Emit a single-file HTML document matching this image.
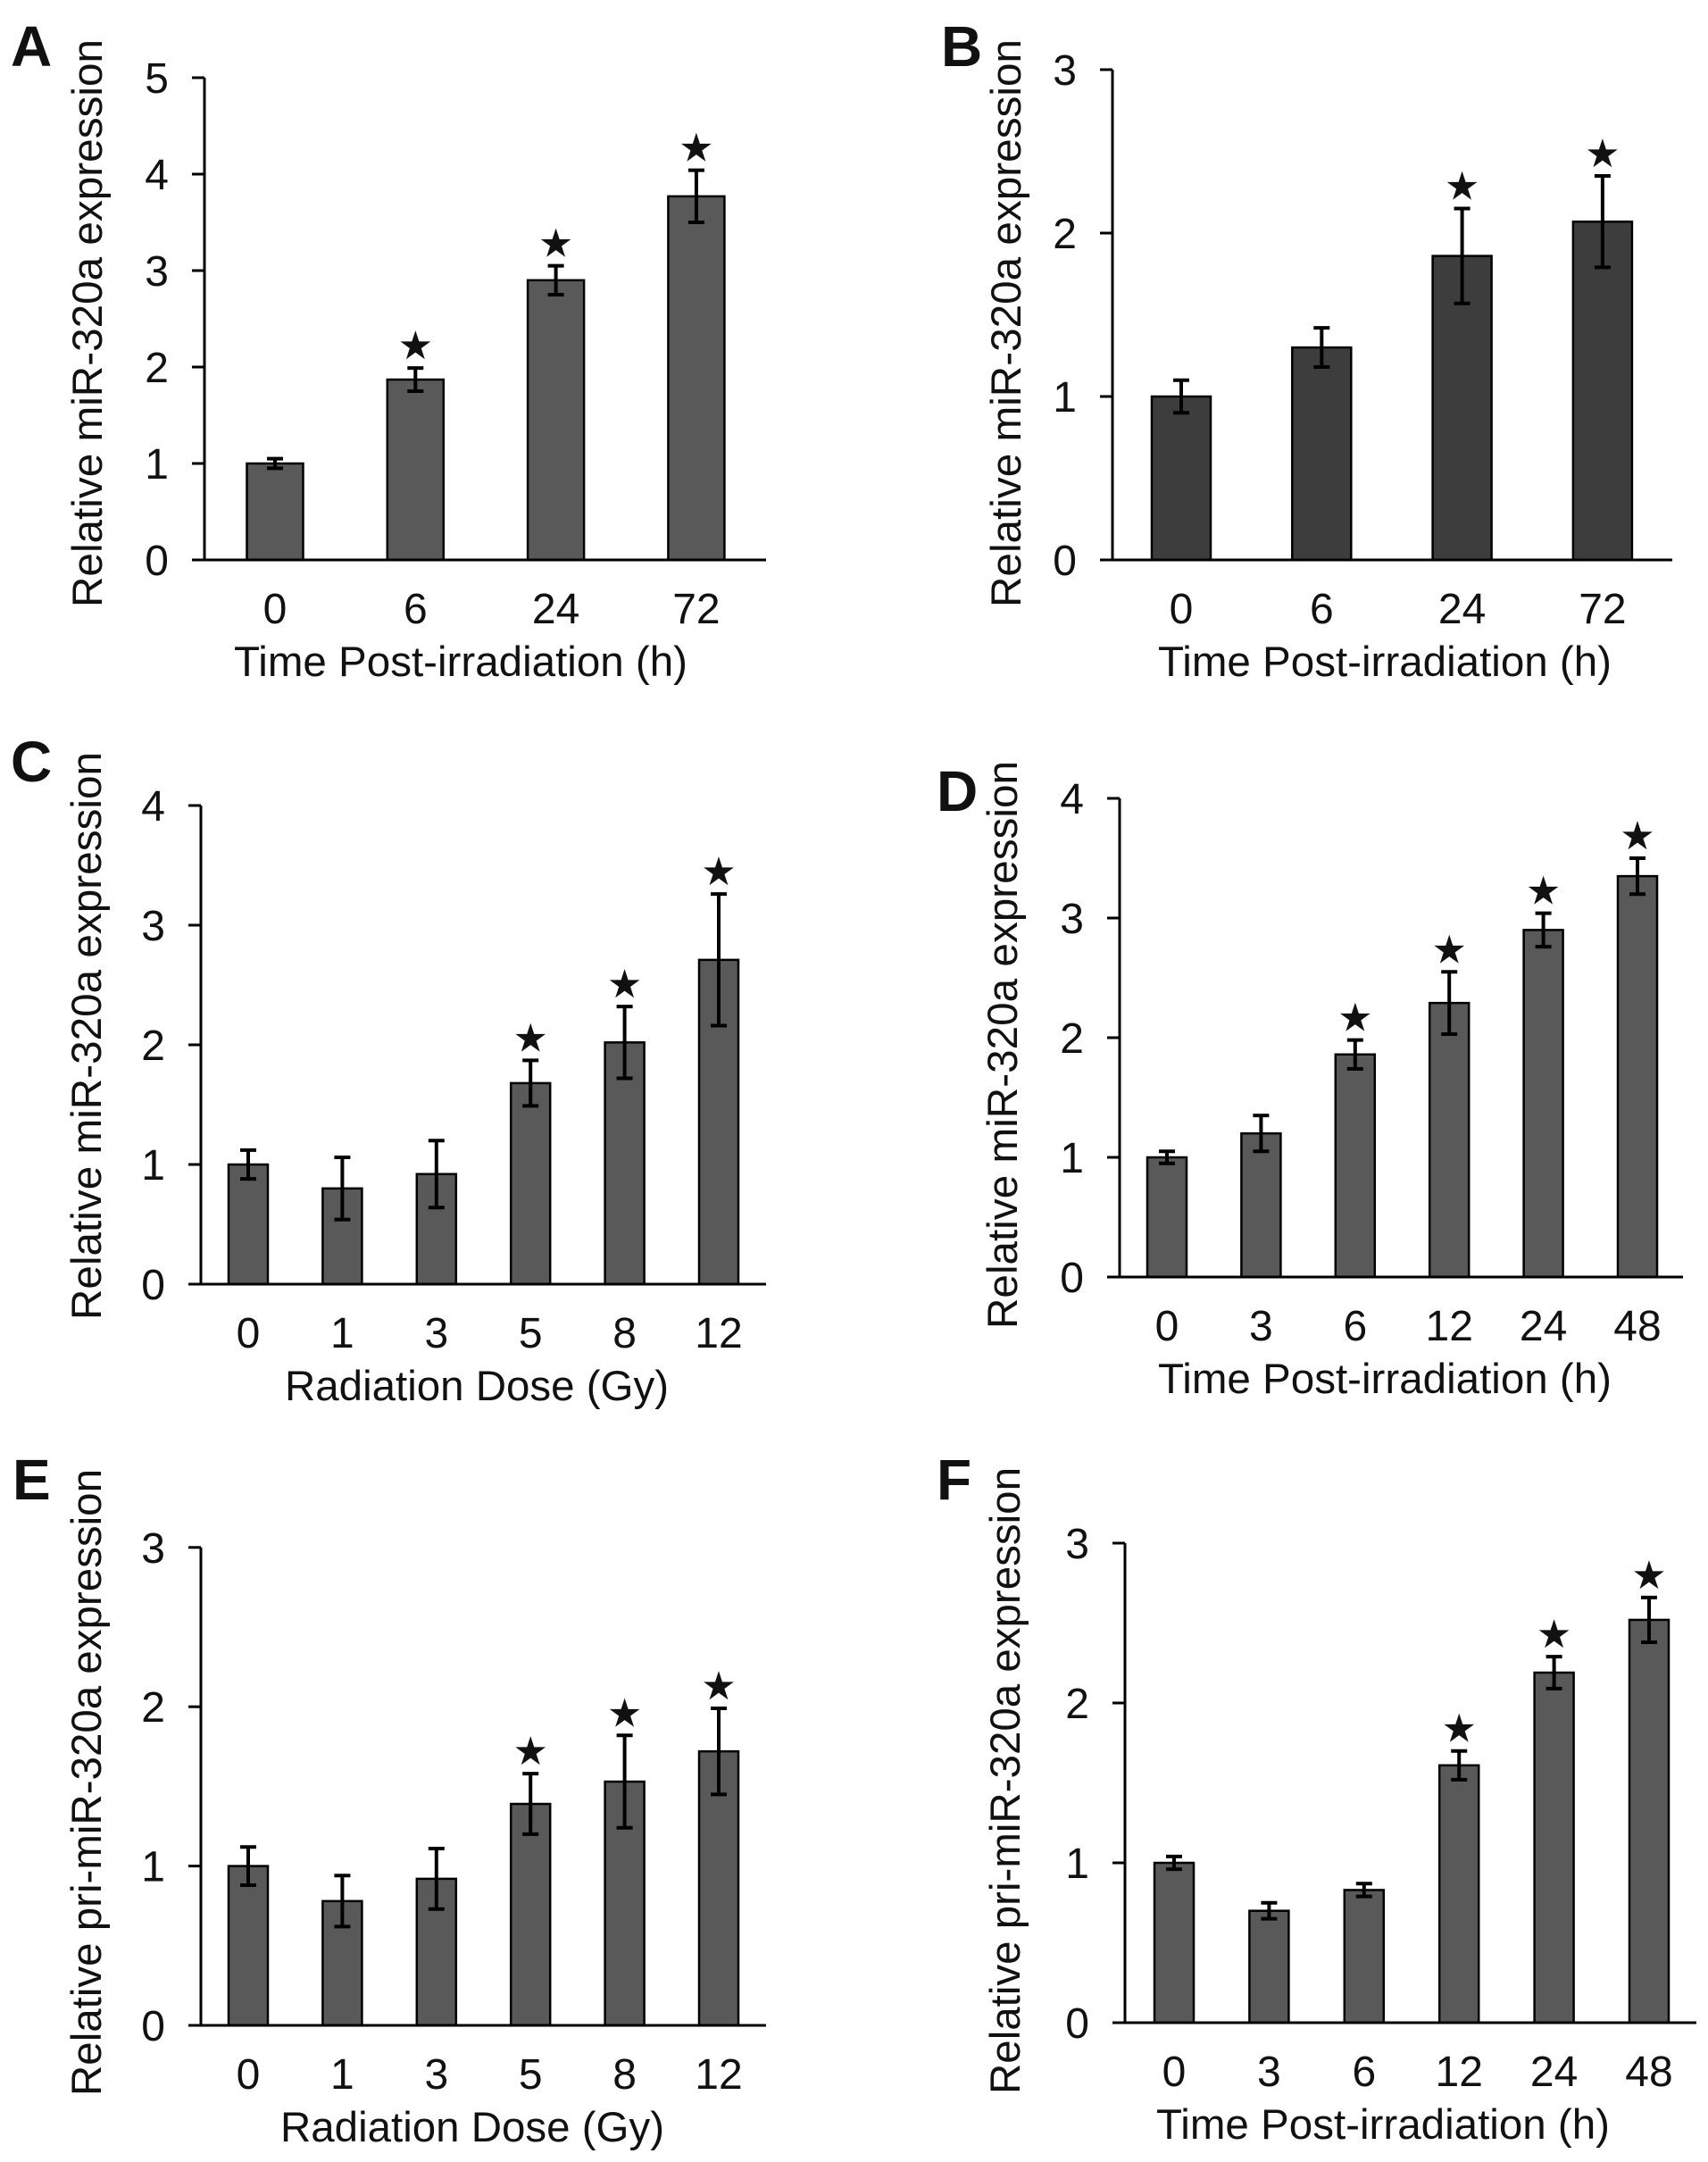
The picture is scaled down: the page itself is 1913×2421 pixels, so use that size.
<!DOCTYPE html>
<html><head><meta charset="utf-8">
<style>
html,body{margin:0;padding:0;background:#fff;}
svg{display:block;}
text{font-family:"Liberation Sans",Arial,sans-serif;fill:#111;}
</style></head>
<body>
<svg id="fig" width="1913" height="2421" viewBox="0 0 1913 2421" xmlns="http://www.w3.org/2000/svg"></svg>
<script>
// Panel A
const catsA = ["0","6","24","72"];
const valsA = [1.0,1.87,2.9,3.77];
const errA = [0.05,0.12,0.15,0.27];
const sigA = [false,true,true,true];
const ticksA = [0,1,2,3,4,5];
// Panel B
const catsB = ["0","6","24","72"];
const valsB = [1.0,1.3,1.86,2.07];
const errB = [0.1,0.12,0.29,0.28];
const sigB = [false,false,true,true];
const ticksB = [0,1,2,3];
// Panel C
const catsC = ["0","1","3","5","8","12"];
const valsC = [1.0,0.8,0.92,1.68,2.02,2.71];
const errC = [0.12,0.26,0.28,0.19,0.3,0.55];
const sigC = [false,false,false,true,true,true];
const ticksC = [0,1,2,3,4];
// Panel D
const catsD = ["0","3","6","12","24","48"];
const valsD = [1.0,1.2,1.86,2.29,2.9,3.35];
const errD = [0.05,0.15,0.12,0.26,0.14,0.15];
const sigD = [false,false,true,true,true,true];
const ticksD = [0,1,2,3,4];
// Panel E
const catsE = ["0","1","3","5","8","12"];
const valsE = [1.0,0.78,0.92,1.39,1.53,1.72];
const errE = [0.12,0.16,0.19,0.19,0.29,0.27];
const sigE = [false,false,false,true,true,true];
const ticksE = [0,1,2,3];
// Panel F
const catsF = ["0","3","6","12","24","48"];
const valsF = [1.0,0.7,0.83,1.61,2.19,2.52];
const errF = [0.04,0.05,0.04,0.09,0.1,0.14];
const sigF = [false,false,false,true,true,true];
const ticksF = [0,1,2,3];

const NS="http://www.w3.org/2000/svg";
const svg=document.getElementById('fig');
function mk(tag,attrs,parent){const e=document.createElementNS(NS,tag);for(const k in attrs)e.setAttribute(k,attrs[k]);(parent||svg).appendChild(e);return e;}

const panels=[
 {id:'a',letter:'A',lx:12,ly:74,ax:229,y0:627,unit:108,right:858,c0:308,step:157.3,bw:63,fill:'#595959',cats:catsA,vals:valsA,err:errA,sig:sigA,ticks:ticksA,ylab:'Relative miR-320a expression',ylx:98,yly:362,yll:636,xlab:'Time Post-irradiation (h)',xlx:516,xll:508},
 {id:'b',letter:'B',lx:1054,ly:74,ax:1246,y0:627,unit:183,right:1873,c0:1323,step:157.3,bw:66,fill:'#3d3d3d',cats:catsB,vals:valsB,err:errB,sig:sigB,ticks:ticksB,ylab:'Relative miR-320a expression',ylx:1127,yly:362,yll:636,xlab:'Time Post-irradiation (h)',xlx:1551,xll:508},
 {id:'c',letter:'C',lx:12,ly:875,ax:225,y0:1438,unit:134,right:858,c0:278,step:105.4,bw:44,fill:'#595959',cats:catsC,vals:valsC,err:errC,sig:sigC,ticks:ticksC,ylab:'Relative miR-320a expression',ylx:97,yly:1160,yll:636,xlab:'Radiation Dose (Gy)',xlx:534,xll:430},
 {id:'d',letter:'D',lx:1049,ly:908,ax:1254,y0:1430,unit:134,right:1885,c0:1307,step:105.4,bw:44,fill:'#595959',cats:catsD,vals:valsD,err:errD,sig:sigD,ticks:ticksD,ylab:'Relative miR-320a expression',ylx:1123,yly:1170,yll:636,xlab:'Time Post-irradiation (h)',xlx:1551,xll:508},
 {id:'e',letter:'E',lx:14,ly:1679,ax:225,y0:2268,unit:178.4,right:858,c0:278,step:105.4,bw:44,fill:'#595959',cats:catsE,vals:valsE,err:errE,sig:sigE,ticks:ticksE,ylab:'Relative pri-miR-320a expression',ylx:97,yly:1996,yll:702,xlab:'Radiation Dose (Gy)',xlx:529,xll:430},
 {id:'f',letter:'F',lx:1049,ly:1679,ax:1260,y0:2265,unit:179,right:1900,c0:1315,step:106.4,bw:44,fill:'#595959',cats:catsF,vals:valsF,err:errF,sig:sigF,ticks:ticksF,ylab:'Relative pri-miR-320a expression',ylx:1126,yly:1994,yll:702,xlab:'Time Post-irradiation (h)',xlx:1549,xll:508}
];

panels.forEach(p=>{
  const g=mk('g',{});
  
  
  const yS=v=>p.y0-v*p.unit;
  const xS=i=>p.c0+i*p.step;
  const top=yS(p.ticks[p.ticks.length-1]);
  const L=mk('text',{x:p.lx,y:p.ly,'font-size':64,'font-weight':'bold'},g);
  L.textContent=p.letter;
  
  
  p.vals.forEach((v,i)=>{
    const cx=xS(i);
    const r=mk('rect',{x:cx-p.bw/2,y:yS(v),width:p.bw,height:v*p.unit,fill:p.fill,stroke:'#000','stroke-width':2.5},g);
    
    
    const hi=yS(v+p.err[i]), lo=yS(v-p.err[i]);
    const eb=mk('path',{d:`M${cx},${hi}V${lo}M${cx-9},${hi}H${cx+9}M${cx-9},${lo}H${cx+9}`,stroke:'#000','stroke-width':4,fill:'none'},g);
    
    
    if(p.sig[i]){
      const s=mk('text',{x:cx,y:hi-10,'font-size':44,'text-anchor':'middle'},g);
      s.textContent='★';
      
      
    }
    const t=mk('text',{x:cx,y:p.y0+71,'font-size':48,'text-anchor':'middle'},g);
    t.textContent=p.cats[i];
    
    
  });
  const ax=mk('path',{d:`M${p.ax},${top}V${p.y0}M${p.ax-14},${p.y0}H${p.right}`,stroke:'#000','stroke-width':3,fill:'none'},g);
  
  
  p.ticks.forEach(tv=>{
    const y=yS(tv);
    const tk=mk('line',{x1:p.ax-14,x2:p.ax,y1:y,y2:y,stroke:'#000','stroke-width':3},g);
    
    
    const tl=mk('text',{x:p.ax-40,y:y+17,'font-size':48,'text-anchor':'end'},g);
    tl.textContent=String(tv);
    
    
  });
  const yl=mk('text',{x:0,y:0,'font-size':47,'text-anchor':'middle',textLength:p.yll,lengthAdjust:'spacingAndGlyphs',transform:`translate(${p.ylx+16},${p.yly}) rotate(-90)`},g);
  yl.textContent=p.ylab;
  
  
  const xl=mk('text',{x:p.xlx,y:p.y0+130,'font-size':47,'text-anchor':'middle',textLength:p.xll,lengthAdjust:'spacingAndGlyphs'},g);
  xl.textContent=p.xlab;
  
  
});
</script>
</body></html>
